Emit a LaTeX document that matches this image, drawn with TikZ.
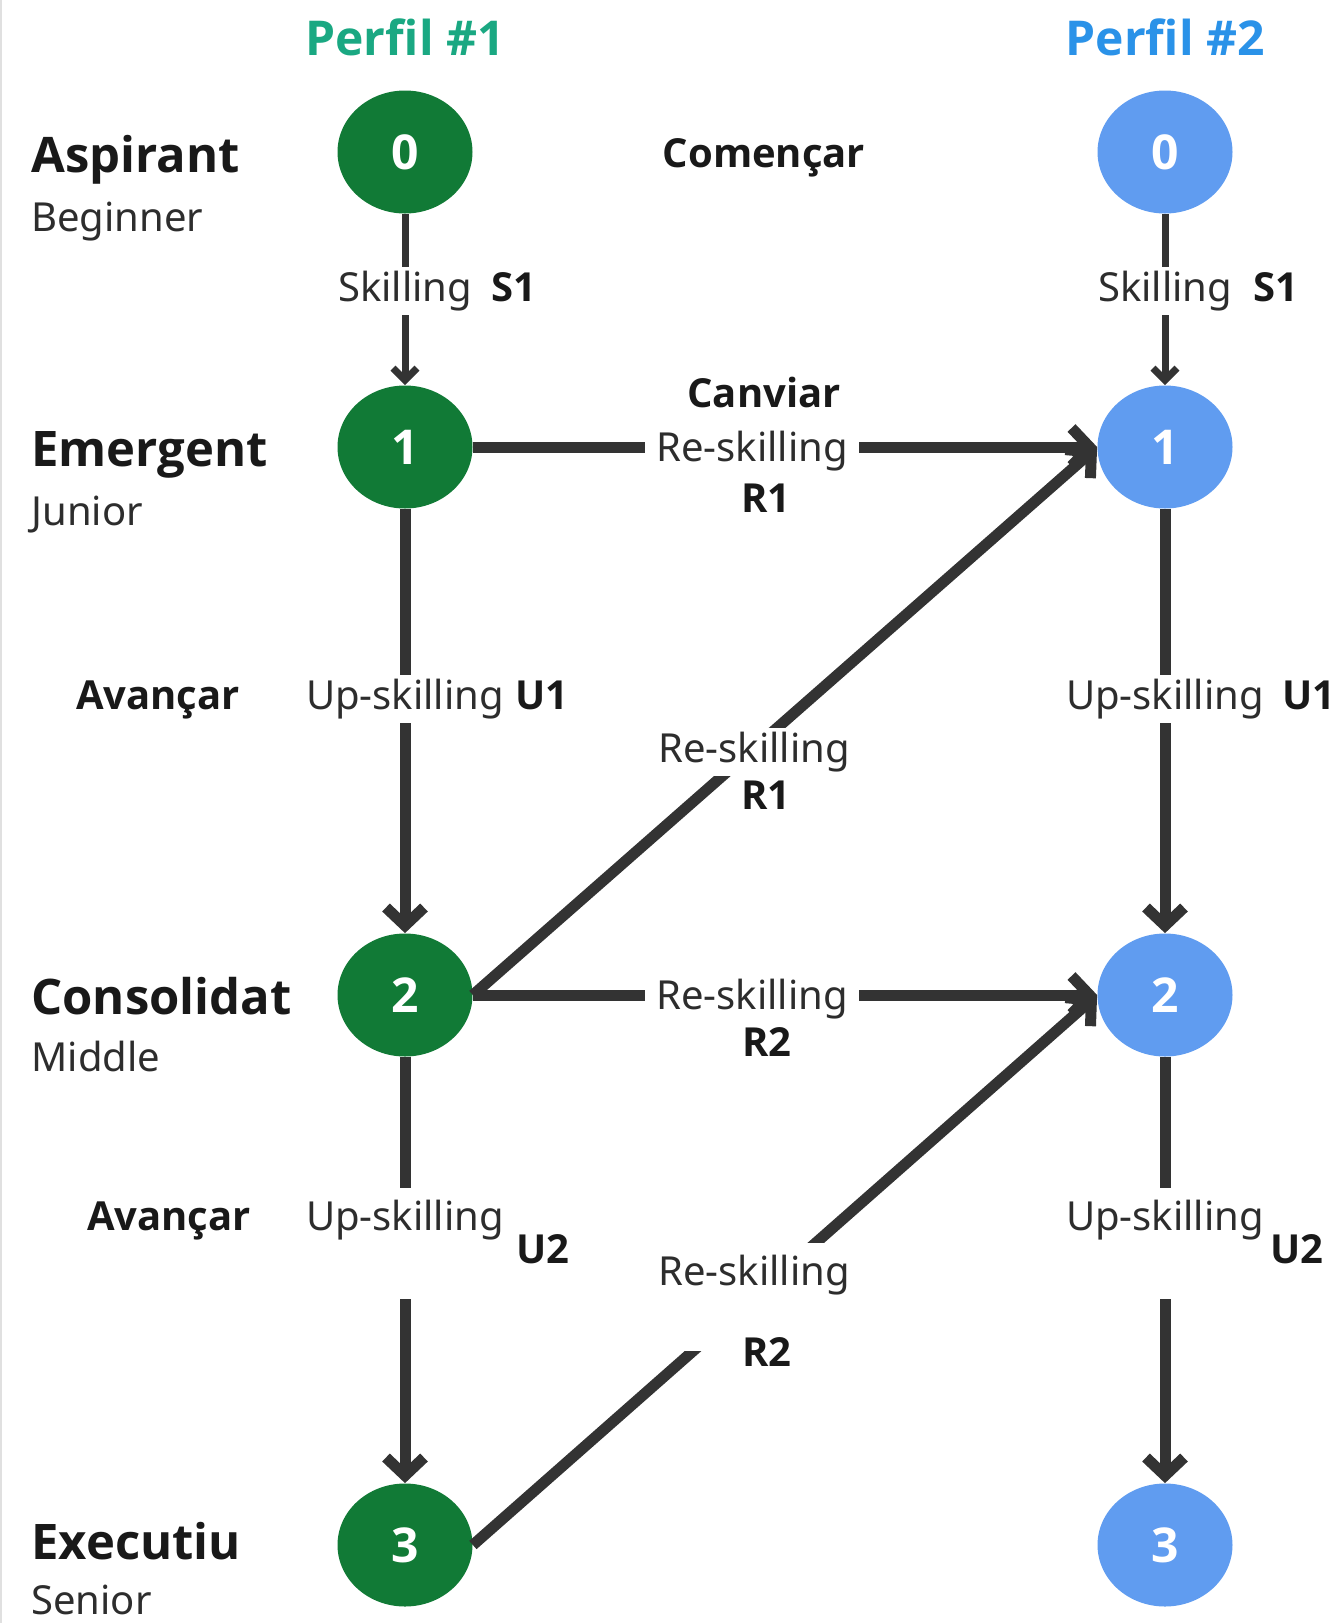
\documentclass[tikz,border=0pt]{standalone}
\usepackage{fontspec}
\setmainfont{Noto Sans}
\newfontfamily\boldsans{Open Sans}
\usetikzlibrary{arrows.meta,shapes.geometric}
\definecolor{dgreen}{RGB}{17,122,54}
\definecolor{lblue}{RGB}{96,156,240}
\definecolor{tgreen}{RGB}{26,168,130}
\definecolor{tblue}{RGB}{42,146,232}
\definecolor{lineg}{RGB}{51,51,51}
\definecolor{txtg}{RGB}{45,45,45}
\tikzset{
  stateA/.style={ellipse, fill=dgreen, minimum width=67.5pt, minimum height=61.5pt, inner sep=0pt, text=white, font=\fontsize{24}{28}\boldsans\bfseries},
  stateB/.style={stateA, fill=lblue},
  conn/.style={draw=lineg, line width=5.5pt, -{Straight Barb[length=9pt,width=19pt]}},
  thinconn/.style={draw=lineg, line width=3.5pt, -{Straight Barb[length=6pt,width=12pt]}},
  lbl/.style={fill=white, inner xsep=5.5pt, inner ysep=2pt, anchor=base, text=txtg, font=\fontsize{20}{24}\selectfont},
  code/.style={inner sep=0pt, anchor=base, text=black!90, font=\fontsize{20}{24}\boldsans\bfseries},
  title/.style={inner sep=0pt, anchor=base, font=\fontsize{24}{28}\boldsans\bfseries},
  head/.style={inner sep=0pt, anchor=base west, text=black!90, font=\fontsize{24.5}{28}\boldsans\bfseries},
  sub/.style={inner sep=0pt, anchor=base west, text=txtg, font=\fontsize{20}{24}\selectfont},
}
\begin{document}
\begin{tikzpicture}[x=0.5pt,y=-0.5pt]
\useasboundingbox (0,0) rectangle (1338,1623);
\fill[white] (0,0) rectangle (1338,1623);
\draw[black!12, line width=1pt] (1,0) -- (1,1623);

% states
\node[stateA] (a0) at (405,152) {0};
\node[stateA] (a1) at (405,447) {1};
\node[stateA] (a2) at (405,995) {2};
\node[stateA] (a3) at (405,1545) {3};
\node[stateB] (b0) at (1165,152) {0};
\node[stateB] (b1) at (1165,447) {1};
\node[stateB] (b2) at (1165,995) {2};
\node[stateB] (b3) at (1165,1545) {3};

% connectors
\draw[thinconn] (a0) -- (a1);
\draw[thinconn] (b0) -- (b1);
\draw[conn] (a1) -- (a2);
\draw[conn] (a2) -- (a3);
\draw[conn] (b1) -- (b2);
\draw[conn] (b2) -- (b3);
\draw[conn] (a1.east) -- (b1.west);
\draw[conn] (a2.east) -- (b1.west);
\draw[conn] (a2.east) -- (b2.west);
\draw[conn] (a3.east) -- (b2.west);

% titles
\node[title, text=tgreen] (t1) at (405,55) {Perfil \#1};
\node[title, text=tblue] (t2) at (1165,55) {Perfil \#2};

% level labels
\node[head] (h0) at (31,172) {Aspirant};
\node[sub] (s0) at (31,231) {Beginner};
\node[head] (h1) at (31,466) {Emergent};
\node[sub] (s1) at (31,525) {Junior};
\node[head] (h2) at (31,1014) {Consolidat};
\node[sub] (s2) at (31,1071) {Middle};
\node[head] (h3) at (31,1559) {Executiu};
\node[sub] (s3) at (31,1614) {Senior};

% action labels
\node[code] (cstart) at (764,167) {Començar};
\node[code] (cchange) at (764,407) {Canviar};
\node[code] (adv1) at (158,709) {Avançar};
\node[code] (adv2) at (169,1230) {Avançar};

% skilling
\node[lbl] (ls1a) at (405,301) {Skilling};
\node[code] (cs1a) at (514,301) {S1};
\node[lbl] (ls1b) at (1165,301) {Skilling};
\node[code] (cs1b) at (1276,301) {S1};

% up-skilling
\node[lbl] (lu1a) at (405,709) {Up-skilling};
\node[code] (cu1a) at (542,709) {U1};
\node[lbl] (lu1b) at (1165,709) {Up-skilling};
\node[code] (cu1b) at (1309,709) {U1};
\node[lbl, text height=19pt, text depth=32.5pt] (lu2a) at (405,1230) {Up-skilling};
\node[code] (cu2a) at (543,1263) {U2};
\node[lbl, text height=19pt, text depth=32.5pt] (lu2b) at (1165,1230) {Up-skilling};
\node[code] (cu2b) at (1297,1263) {U2};

% re-skilling
\node[lbl] (lr1h) at (752,461) {Re-skilling};
\node[code] (cr1h) at (766,512) {R1};
\node[lbl] (lr1d) at (754,762) {Re-skilling};
\node[code] (cr1d) at (766,809) {R1};
\node[lbl] (lr2h) at (752,1009) {Re-skilling};
\node[code] (cr2h) at (767,1056) {R2};
\node[lbl, text height=19pt, text depth=31pt] (lr2d) at (754,1285) {Re-skilling};
\node[code] (cr2d) at (767,1366) {R2};
\end{tikzpicture}
\end{document}
